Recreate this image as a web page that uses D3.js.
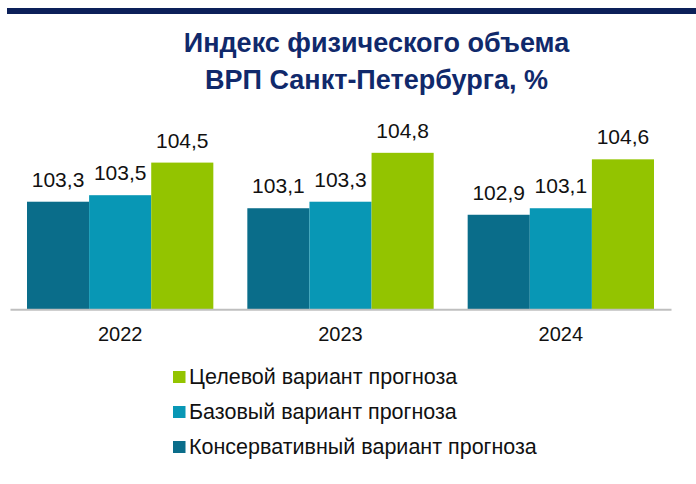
<!DOCTYPE html>
<html>
<head>
<meta charset="utf-8">
<script src="https://cdn.jsdelivr.net/npm/d3@7"></script>
<style>
  body { margin: 0; background: #fff; }
  svg { display: block; font-family: Arial, "Liberation Sans", sans-serif; }
</style>
</head>
<body>
<div id="chartDiv"></div>
<script>
// data
var years = ["2022", "2023", "2024"];
var seriesNames = ["Консервативный вариант прогноза", "Базовый вариант прогноза", "Целевой вариант прогноза"];
var conservative = [103.3, 103.1, 102.9];
var base = [103.5, 103.3, 103.1];
var target = [104.5, 104.8, 104.6];
var colors = ["#0a6d8a", "#0897b5", "#93c400"];
var titleLines = ["Индекс физического объема", "ВРП Санкт-Петербурга, %"];

var SVGwidth = 696, SVGheight = 484;
var series = [conservative, base, target];

var svg = d3.select("#chartDiv").append("svg")
  .attr("width", SVGwidth)
  .attr("height", SVGheight);

// top navy rule
svg.append("rect")
  .attr("x", 7).attr("y", 8)
  .attr("width", SVGwidth - 7).attr("height", 6)
  .style("fill", "#0c2059");

// title
svg.selectAll("text.title")
  .data(titleLines)
  .enter().append("text")
  .attr("class", "title")
  .attr("x", 376.5)
  .attr("y", function (d, i) { return 51.5 + i * 37; })
  .attr("text-anchor", "middle")
  .style("font-weight", "bold")
  .style("font-size", "27px")
  .style("fill", "#10296b")
  .text(function (d) { return d; });

// scales
var x0 = d3.scaleBand().domain(years).range([10, 671]);
var x1 = d3.scaleBand().domain(d3.range(series.length))
  .range([17, x0.bandwidth() - 17]);
var y = d3.scaleLinear().domain([100, 105]).range([309.3, 146.3]);

var groups = svg.selectAll("g.year")
  .data(years)
  .enter().append("g")
  .attr("class", "year")
  .attr("transform", function (d) { return "translate(" + x0(d) + ",0)"; });

groups.selectAll("rect")
  .data(function (d, i) { return series.map(function (s, k) { return {k: k, v: s[i]}; }); })
  .enter().append("rect")
  .attr("x", function (d) { return x1(d.k); })
  .attr("width", x1.bandwidth())
  .attr("y", function (d) { return y(d.v); })
  .attr("height", function (d) { return y(100) - y(d.v); })
  .style("fill", function (d) { return colors[d.k]; });

groups.selectAll("text.val")
  .data(function (d, i) { return series.map(function (s, k) { return {k: k, v: s[i]}; }); })
  .enter().append("text")
  .attr("class", "val")
  .attr("x", function (d) { return x1(d.k) + x1.bandwidth() / 2; })
  .attr("y", function (d) { return y(d.v) - 15; })
  .attr("text-anchor", "middle")
  .style("font-size", "21px")
  .style("fill", "#111")
  .text(function (d) { return d.v.toFixed(1).replace(".", ","); });

// x axis
var xAxis = d3.axisBottom(x0).tickSize(0).tickPadding(18);
var axisG = svg.append("g")
  .attr("transform", "translate(0," + y(100) + ")")
  .call(xAxis);
axisG.select(".domain").style("stroke", "#bfbfbf").style("stroke-width", 2);
axisG.selectAll("text")
  .style("font-size", "20px")
  .style("fill", "#111")
  .style("font-family", "Arial, 'Liberation Sans', sans-serif");

// legend (target first)
var legendOrder = [2, 1, 0];
var legend = svg.selectAll("g.legend")
  .data(legendOrder)
  .enter().append("g")
  .attr("class", "legend")
  .attr("transform", function (d, i) { return "translate(173," + (371 + i * 35) + ")"; });
legend.append("rect")
  .attr("width", 12.5).attr("height", 12)
  .style("fill", function (d) { return colors[d]; });
legend.append("text")
  .attr("x", 16).attr("y", 12.5)
  .style("font-size", "21.5px")
  .style("fill", "#111")
  .text(function (d) { return seriesNames[d]; });
</script>
</body>
</html>
